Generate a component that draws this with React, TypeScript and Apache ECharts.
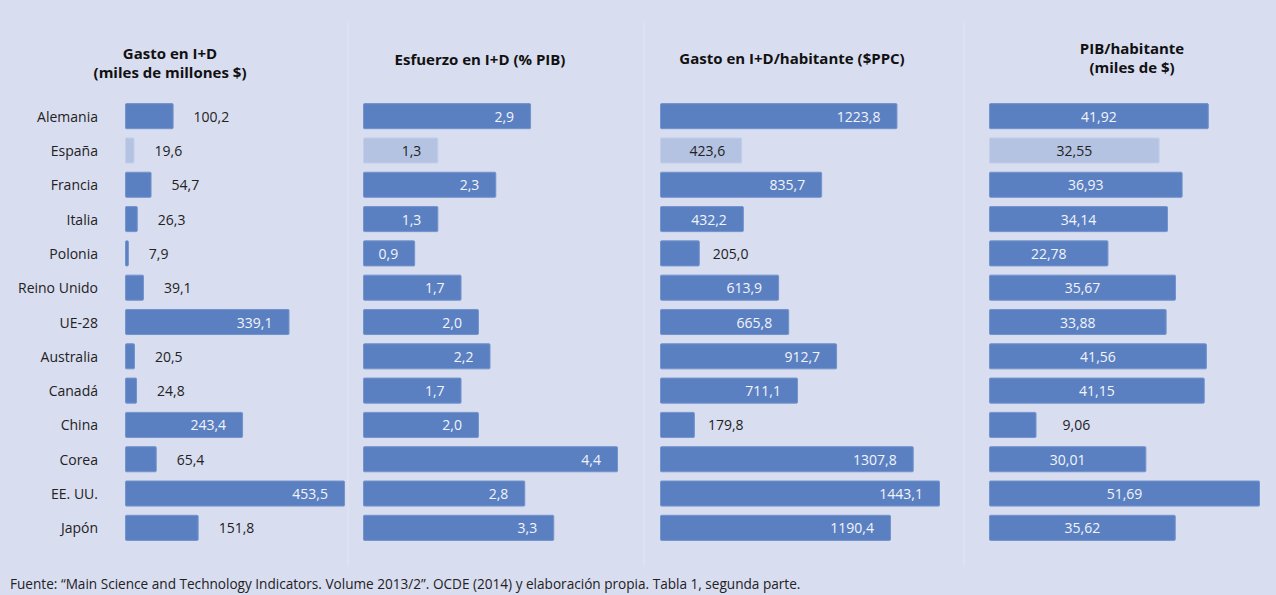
import React, { useEffect, useRef } from "react";
import * as echarts from "echarts";

const countries = ["Alemania", "España", "Francia", "Italia", "Polonia", "Reino Unido", "UE-28", "Australia", "Canadá", "China", "Corea", "EE. UU.", "Japón"];

const gastoID = [100.2, 19.6, 54.7, 26.3, 7.9, 39.1, 339.1, 20.5, 24.8, 243.4, 65.4, 453.5, 151.8];
const esfuerzoID = [2.9, 1.3, 2.3, 1.3, 0.9, 1.7, 2.0, 2.2, 1.7, 2.0, 4.4, 2.8, 3.3];
const gastoHab = [1223.8, 423.6, 835.7, 432.2, 205.0, 613.9, 665.8, 912.7, 711.1, 179.8, 1307.8, 1443.1, 1190.4];
const pibHab = [41.92, 32.55, 36.93, 34.14, 22.78, 35.67, 33.88, 41.56, 41.15, 9.06, 30.01, 51.69, 35.62];

const decimals = [1, 1, 1, 2];

// label placement: "in" = inside the bar, "out" = right of the bar
const place1 = ["out", "out", "out", "out", "out", "out", "in", "out", "out", "in", "out", "in", "out"];
const place2 = ["in", "in", "in", "in", "in", "in", "in", "in", "in", "in", "in", "in", "in"];
const place3 = ["in", "in", "in", "in", "out", "in", "in", "in", "in", "out", "in", "in", "in"];
const place4 = ["in", "in", "in", "in", "in", "in", "in", "in", "in", "out", "in", "in", "in"];

const titles = [
  "Gasto en I+D\n(miles de millones $)",
  "Esfuerzo en I+D (% PIB)",
  "Gasto en I+D/habitante ($PPC)",
  "PIB/habitante\n(miles de $)",
];

const footer = "Fuente: “Main Science and Technology Indicators. Volume 2013/2”. OCDE (2014) y elaboración propia. Tabla 1, segunda parte.";

const HIGHLIGHT = "España";
const FONT = "'Open Sans', 'Noto Sans', sans-serif";
const BAR = "#5b80c1";
const BAR_LIGHT = "#b5c3e3";

export default function App() {
  const ref = useRef<HTMLDivElement>(null);
  useEffect(() => {
    if (!ref.current) return;
    const chart = echarts.init(ref.current, undefined, { renderer: "svg" });

    const allData = [gastoID, esfuerzoID, gastoHab, pibHab];
    const places = [place1, place2, place3, place4];
    const grids = [
      { left: 125, width: 220 },
      { left: 363, width: 255 },
      { left: 660, width: 280 },
      { left: 989, width: 271 },
    ];
    const inPos = ["insideRight", "insideRight", "insideRight", "inside"];
    const outDist = [20, 20, 13, 26];
    const top = 99;
    const height = 446;

    const fmt = (v: number, d: number) => v.toFixed(d).replace(".", ",");

    const series = allData.map((arr, gi) => ({
      type: "bar",
      xAxisIndex: gi,
      yAxisIndex: gi,
      barCategoryGap: "24%",
      silent: true,
      data: arr.map((v, i) => {
        const hl = countries[i] === HIGHLIGHT;
        const inside = places[gi][i] === "in";
        return {
          value: v,
          itemStyle: {
            color: hl ? BAR_LIGHT : BAR,
            borderColor: hl ? "#c3cfe9" : "#7393cc",
            borderWidth: 1,
            borderRadius: 1,
          },
          label: {
            show: true,
            position: inside ? inPos[gi] : "right",
            distance: inside ? 17 : outDist[gi],
            color: inside && !hl ? "#f2f4fb" : "#222222",
            fontFamily: FONT,
            fontSize: 14,
            formatter: () => fmt(v, decimals[gi]),
          },
        };
      }),
    }));

    const titleX = [170, 480, 792, 1132];
    const titleY = [62, 59, 58, 57];

    chart.setOption({
      animation: false,
      backgroundColor: "#d9ddf0",
      grid: grids.map((g) => ({ left: g.left, width: g.width, top, height })),
      xAxis: allData.map((arr, gi) => ({
        type: "value",
        gridIndex: gi,
        min: 0,
        max: Math.max(...arr),
        show: false,
      })),
      yAxis: allData.map((_, gi) => ({
        type: "category",
        gridIndex: gi,
        inverse: true,
        data: countries,
        axisLine: { show: false },
        axisTick: { show: false },
        axisLabel: {
          show: gi === 0,
          color: "#222222",
          fontFamily: FONT,
          fontSize: 14,
          margin: 27,
        },
      })),
      series,
      graphic: [
        ...[348, 644, 964].map((x) => ({
          type: "line",
          shape: { x1: x, y1: 21, x2: x, y2: 566 },
          style: { stroke: "#dfe2f3", lineWidth: 1.5 },
          silent: true,
        })),
        ...titles.map((t, i) => ({
          type: "text",
          x: titleX[i],
          y: titleY[i],
          style: {
            text: t,
            fill: "#111111",
            font: `bold 15px ${FONT}`,
            align: "center",
            verticalAlign: "middle",
            lineHeight: 19,
          },
        })),
        {
          type: "text",
          x: 10,
          y: 583,
          style: {
            text: footer,
            fill: "#222222",
            font: `13.6px ${FONT}`,
            verticalAlign: "middle",
          },
        },
      ],
    });
    return () => chart.dispose();
  }, []);

  return (
    <div
      ref={ref}
      style={{ position: "absolute", left: 0, top: 0, width: 1276, height: 595 }}
    />
  );
}
